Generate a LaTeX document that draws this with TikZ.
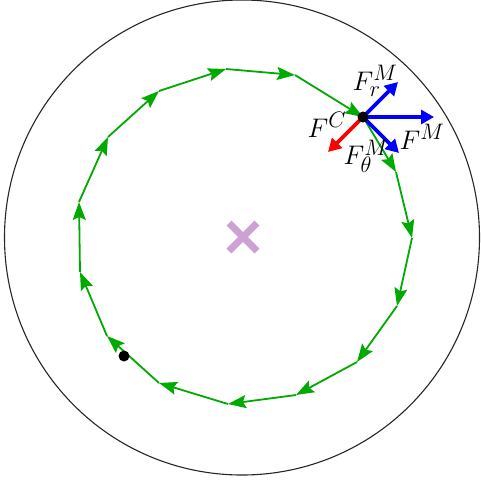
\documentclass[tikz,border=0pt]{standalone}
\usetikzlibrary{arrows.meta}
\definecolor{pathgreen}{RGB}{0,170,0}
\definecolor{crosscol}{RGB}{204,162,210}
\definecolor{forceblue}{RGB}{0,0,255}
\definecolor{forcered}{RGB}{255,0,0}
\newcommand{\biglab}[1]{\scalebox{1.08}{\Huge #1}}
\begin{document}
\begin{tikzpicture}[x=1pt,y=-1pt,
  pathseg/.style={draw=pathgreen, line width=1.8pt, -{Stealth[length=18pt,width=13pt,inset=3pt]}},
  force/.style={line width=3.8pt, -{Triangle[length=13pt,width=14pt]}},
  lab/.style={inner sep=0pt},
  dotnode/.style={circle, fill=black, inner sep=0pt, minimum size=11pt}]
\useasboundingbox (0,0) rectangle (481,480);
% outer ring
\draw[black!85, line width=1.1pt] (242,237.5) circle (237.5);
% centre cross
\coordinate (ctr) at (243,237);
\draw[crosscol, line width=7pt] ([shift={(-14,-14)}]ctr) -- ([shift={(14,14)}]ctr);
\draw[crosscol, line width=7pt] ([shift={(-14,14)}]ctr) -- ([shift={(14,-14)}]ctr);
% polygon vertices
\coordinate (p1) at (79,202);
\coordinate (p2) at (108,137);
\coordinate (p3) at (159,91);
\coordinate (p4) at (226,69);
\coordinate (p5) at (295,75);
\coordinate (p6) at (363,117);
\coordinate (p7) at (396,172);
\coordinate (p8) at (412,238);
\coordinate (p9) at (397,306);
\coordinate (p10) at (357,362);
\coordinate (p11) at (296,395);
\coordinate (p12) at (228,404);
\coordinate (p13) at (159,383);
\coordinate (p14) at (107,336);
\coordinate (p15) at (80,272);
\foreach \a/\b in {15/1,1/2,2/3,3/4,4/5,5/6,6/7,7/8,8/9,9/10,10/11,11/12,12/13,13/14,14/15}
  \draw[pathseg] (p\a) -- (p\b);
% forces
\coordinate (fr) at (398,82);
\coordinate (fm) at (434,117);
\coordinate (ft) at (399,153);
\coordinate (fc) at (328,152);
\draw[force, forceblue] (p6) -- (fr);
\draw[force, forceblue] (p6) -- (fm);
\draw[force, forceblue] (p6) -- (ft);
\draw[force, forcered] (p6) -- (fc);
\node[dotnode] (m) at (p6) {};
\node[dotnode] (d2) at (124,356) {};
% labels
\node[lab] (lfr) at (375,81) {\biglab{$F_r^M$}};
\node[lab] (lfm) at (422,137) {\biglab{$F^M$}};
\node[lab] (lfc) at (327,125) {\biglab{$F^C$}};
\node[lab] (lft) at (366,156) {\biglab{$F_\theta^M$}};
\end{tikzpicture}
\end{document}
